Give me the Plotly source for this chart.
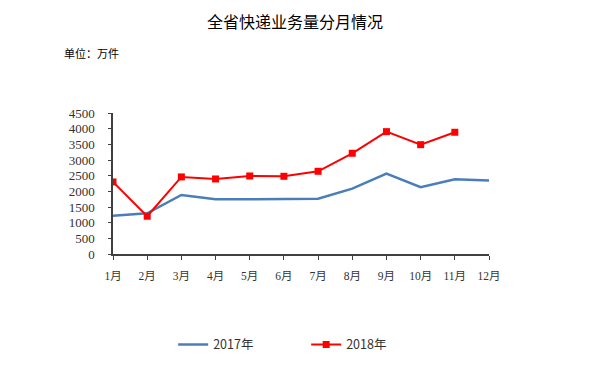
import plotly.graph_objects as go

months = ["1月", "2月", "3月", "4月", "5月", "6月", "7月", "8月", "9月", "10月", "11月", "12月"]
vals_2017 = [1220, 1300, 1885, 1750, 1750, 1765, 1765, 2085, 2565, 2130, 2385, 2345]
months_2018 = months[:11]
vals_2018 = [2300, 1205, 2460, 2395, 2490, 2480, 2640, 3215, 3905, 3490, 3885]
y_ticks = [0, 500, 1000, 1500, 2000, 2500, 3000, 3500, 4000, 4500]

fig = go.Figure()
fig.add_trace(go.Scatter(x=months, y=vals_2017, mode="lines", name="2017年",
                         line=dict(color="#4a7ebb", width=2.5)))
fig.add_trace(go.Scatter(x=months_2018, y=vals_2018, mode="lines+markers", name="2018年",
                         line=dict(color="#ff0000", width=2),
                         marker=dict(symbol="square", size=7, color="#ff0000")))

fig.update_layout(
    width=600, height=369,
    margin=dict(l=105, r=119, t=105, b=123),
    paper_bgcolor="white", plot_bgcolor="white",
    showlegend=True,
    legend=dict(orientation="h", x=0.16, y=-0.645, xanchor="left", yanchor="middle",
                font=dict(family="Noto Sans CJK SC, sans-serif", size=12.5, color="#333333"),
                entrywidth=88, bgcolor="rgba(0,0,0,0)"),
    title=dict(text="全省快递业务量分月情况", x=287/600, xanchor="center", y=1-14/369, yanchor="middle",
               font=dict(family="Noto Sans CJK SC, sans-serif", size=16, color="#000000")),
    annotations=[dict(text="单位：万件", xref="paper", yref="paper", x=-(113-62)/376, y=1+(113-53)/141,
                      xanchor="left", yanchor="middle", showarrow=False,
                      font=dict(family="Noto Sans CJK SC, sans-serif", size=11, color="#000000"))],
)
fig.update_xaxes(type="category", range=[0, 11], showline=True, linecolor="#404040", linewidth=1.5,
                 ticks="outside", ticklen=4, tickcolor="#404040", showgrid=False, zeroline=False,
                 ticklabelstandoff=6,
                 tickfont=dict(family="Liberation Serif, Noto Sans CJK SC, serif", size=11.5, color="#333333"))
fig.update_yaxes(range=[0, 4500], tickvals=y_ticks, showline=True, linecolor="#404040", linewidth=1.5,
                 ticks="outside", ticklen=3, tickcolor="#404040", showgrid=False, zeroline=False,
                 ticklabelstandoff=11,
                 tickfont=dict(family="Liberation Serif, serif", size=13, color="#333333"))

fig.write_html("out.html")
